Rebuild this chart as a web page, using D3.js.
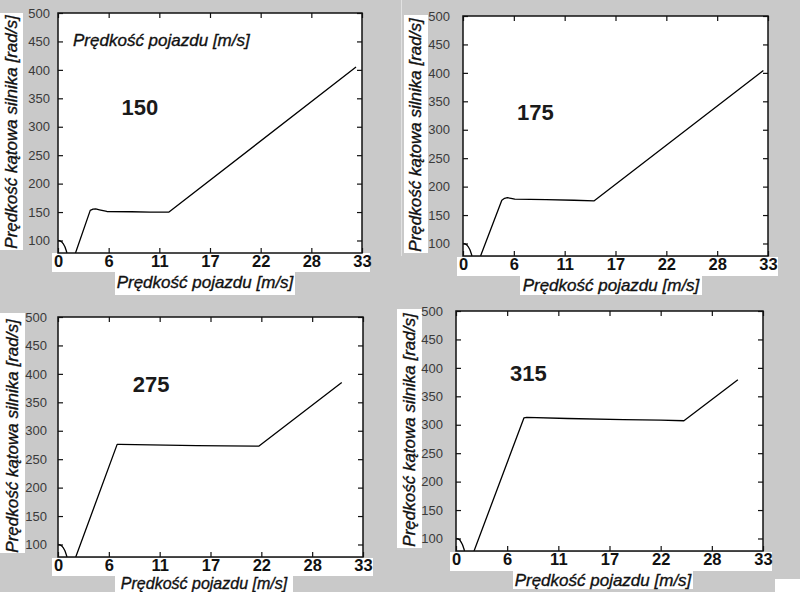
<!DOCTYPE html>
<html>
<head>
<meta charset="utf-8">
<script src="https://cdn.jsdelivr.net/npm/d3@7/dist/d3.min.js"></script>
<style>
  html, body { margin: 0; padding: 0; background: #c9c9c9; }
  svg { display: block; font-family: "Liberation Sans", Arial, sans-serif; }
</style>
</head>
<body>
<svg id="chart" width="800" height="592"></svg>
<script>
// ---------------- DATA ----------------
const xTickValues = [0, 5.5, 11, 16.5, 22, 27.5, 33];
const xTickLabels = ["0", "6", "11", "17", "22", "28", "33"];
const yTickValues = [100, 150, 200, 250, 300, 350, 400, 450, 500];
const xDomain = [0, 33];
const yDomain = [78, 500];

const xTitle = "Prędkość pojazdu [m/s]";
const yTitle = "Prędkość kątowa silnika [rad/s]";
const panelLabels = ["150", "175", "275", "315"];

// series: vehicle speed [m/s] vs engine angular speed [rad/s]
const s150X = [0, 0.2, 0.4, 0.6, 0.75, 0.9, 1.1, 1.5, 1.9, 3.5, 3.8, 4.1, 4.5, 5.3, 8, 10, 12.05, 32.35];
const s150Y = [100, 99.5, 97.5, 93.5, 89, 82, 70, 59, 78, 153, 155, 155.5, 154, 151, 150.5, 150, 150, 405];

const s175X = [0, 0.2, 0.4, 0.6, 0.75, 0.9, 1.1, 1.5, 1.9, 4.2, 4.5, 4.8, 5.2, 5.6, 9, 12, 14.2, 32.5];
const s175Y = [100, 99.5, 97.5, 93.5, 89, 82, 70, 59, 78, 176, 179.5, 180.5, 179.5, 178, 177, 176, 175, 404];

const s275X = [0, 0.2, 0.4, 0.6, 0.75, 0.9, 1.1, 1.5, 1.92, 6.4, 6.7, 10, 15, 18, 21.75, 30.7];
const s275Y = [100, 99.5, 97.5, 93.5, 89, 82, 70, 59, 78, 276, 276, 275, 274, 273.5, 273, 385];

const s315X = [0, 0.2, 0.4, 0.55, 0.7, 0.85, 1.05, 1.5, 1.94, 7.3, 7.6, 12, 18, 22, 24.5, 30.3];
const s315Y = [100, 99.5, 97.5, 93.5, 89, 82, 70, 59, 78, 312, 313, 311, 309, 308, 307, 379];

// label annotations in data coordinates
const labelX = [6.9, 5.85, 8.1, 5.8];
const labelY = [321, 317, 369, 377];

// ---------------- LAYOUT ----------------
const panels = [
  { xs: s150X, ys: s150Y, x0: 58, x1: 362, top: 13, bot: 253, yLabGap: 8,
    yBox: [0, 13, 23, 237], yTitleX: 17, band: [52, 253, 318, 19], tBox: [115, 272, 180, 23], tBase: 288, tSize: 17,
    inner: true },
  { xs: s175X, ys: s175Y, x0: 463, x1: 768, top: 16, bot: 256, yLabGap: 13,
    yBox: [404, 15, 24, 238], yTitleX: 421, band: [457, 257, 321, 19], tBox: [520, 276, 182, 19], tBase: 291, tSize: 17 },
  { xs: s275X, ys: s275Y, x0: 58, x1: 363, top: 317, bot: 557, yLabGap: 11,
    yBox: [0, 313, 25, 240], yTitleX: 18, band: [52, 558, 321, 18], tBox: [115, 576, 178, 20], tBase: 588.5, tSize: 16 },
  { xs: s315X, ys: s315Y, x0: 456, x1: 763, top: 311, bot: 551, yLabGap: 13,
    yBox: [397, 309, 25, 239], yTitleX: 415, band: [450, 552, 322, 19], tBox: [513, 571, 180, 18], tBase: 586, tSize: 17 }
];

const svg = d3.select("#chart");
svg.append("rect").attr("width", 800).attr("height", 592).attr("fill", "#c9c9c9");
svg.append("line").attr("x1", 401.5).attr("x2", 401.5).attr("y1", 0).attr("y2", 256)
  .attr("stroke", "#e2e2e2").attr("stroke-width", 1);
svg.append("rect").attr("x", 775).attr("y", 579).attr("width", 25).attr("height", 13).attr("fill", "#fff");

panels.forEach((p, i) => {
  const g = svg.append("g");
  const x = d3.scaleLinear().domain(xDomain).range([p.x0, p.x1]);
  const y = d3.scaleLinear().domain(yDomain).range([p.bot, p.top]);

  // white label boxes
  g.append("rect").attr("x", p.yBox[0]).attr("y", p.yBox[1]).attr("width", p.yBox[2]).attr("height", p.yBox[3]).attr("fill", "#fff");
  g.append("rect").attr("x", p.band[0]).attr("y", p.band[1]).attr("width", p.band[2]).attr("height", p.band[3]).attr("fill", "#fff");
  g.append("rect").attr("x", p.tBox[0]).attr("y", p.tBox[1]).attr("width", p.tBox[2]).attr("height", p.tBox[3]).attr("fill", "#fff");

  // plot area
  g.append("rect").attr("x", p.x0).attr("y", p.top).attr("width", p.x1 - p.x0).attr("height", p.bot - p.top)
    .attr("fill", "#fff");

  // inward ticks on all four sides
  const tickStyle = sel => { sel.select(".domain").remove(); sel.selectAll("line").attr("stroke", "#111").attr("stroke-width", 1.2); sel.selectAll("text").remove(); };
  g.append("g").attr("transform", `translate(0,${p.bot})`).call(d3.axisTop(x).tickValues(xTickValues).tickSize(5)).call(tickStyle);
  g.append("g").attr("transform", `translate(0,${p.top})`).call(d3.axisBottom(x).tickValues(xTickValues).tickSize(5)).call(tickStyle);
  g.append("g").attr("transform", `translate(${p.x0},0)`).call(d3.axisRight(y).tickValues(yTickValues).tickSize(5)).call(tickStyle);
  g.append("g").attr("transform", `translate(${p.x1},0)`).call(d3.axisLeft(y).tickValues(yTickValues).tickSize(5)).call(tickStyle);

  // tick labels
  const yl = g.append("g").attr("transform", `translate(${p.x0},0)`)
    .call(d3.axisLeft(y).tickValues(yTickValues).tickSize(0).tickPadding(p.yLabGap));
  yl.select(".domain").remove();
  yl.selectAll("text").attr("font-size", 13).attr("fill", "#3a3a3a").attr("font-family", "'Liberation Sans', Arial, sans-serif");

  const xl = g.append("g").attr("transform", `translate(0,${p.bot})`)
    .call(d3.axisBottom(x).tickValues(xTickValues).tickSize(0).tickPadding(2)
      .tickFormat((d, k) => xTickLabels[k]));
  xl.select(".domain").remove();
  xl.selectAll("text").attr("font-size", 16.5).attr("font-weight", "bold").attr("fill", "#111")
    .attr("font-family", "'Liberation Sans', Arial, sans-serif");

  // curve
  const clipId = "clip" + i;
  g.append("clipPath").attr("id", clipId).append("rect")
    .attr("x", p.x0).attr("y", p.top).attr("width", p.x1 - p.x0).attr("height", p.bot - p.top);
  const pts = p.xs.map((v, k) => [v, p.ys[k]]);
  g.append("path").datum(pts).attr("clip-path", `url(#${clipId})`)
    .attr("d", d3.line().x(d => x(d[0])).y(d => y(d[1])))
    .attr("fill", "none").attr("stroke", "#000").attr("stroke-width", 1.3).attr("stroke-linejoin", "round");

  // frame
  g.append("rect").attr("x", p.x0).attr("y", p.top).attr("width", p.x1 - p.x0).attr("height", p.bot - p.top)
    .attr("fill", "none").attr("stroke", "#111").attr("stroke-width", 1.5);

  // panel label
  g.append("text").attr("x", x(labelX[i])).attr("y", y(labelY[i]))
    .attr("font-size", 22).attr("font-weight", "bold").attr("fill", "#1a1a1a").text(panelLabels[i]);

  // axis titles
  g.append("text").attr("x", (p.tBox[0] + p.tBox[2] / 2)).attr("y", p.tBase)
    .attr("text-anchor", "middle").attr("font-size", p.tSize).attr("font-style", "italic")
    .attr("fill", "#111").attr("stroke", "#111").attr("stroke-width", 0.35).text(xTitle);
  g.append("text").attr("transform", `translate(${p.yTitleX},${p.top + (p.bot - p.top) / 2 - 1}) rotate(-90)`)
    .attr("text-anchor", "middle").attr("font-size", 17).attr("font-style", "italic")
    .attr("fill", "#111").attr("stroke", "#111").attr("stroke-width", 0.35).text(yTitle);

  if (p.inner) {
    g.append("text").attr("x", x(1.63)).attr("y", y(442))
      .attr("font-size", 17).attr("font-style", "italic")
      .attr("fill", "#111").attr("stroke", "#111").attr("stroke-width", 0.35).text(xTitle);
  }
});
</script>
</body>
</html>
